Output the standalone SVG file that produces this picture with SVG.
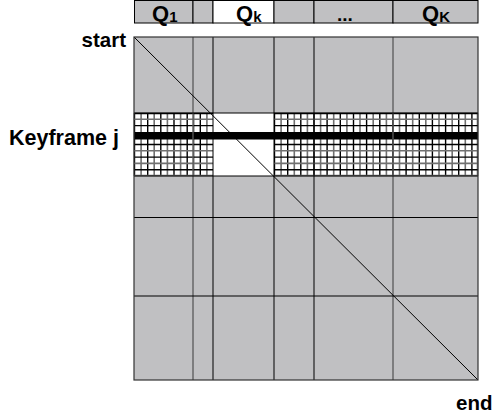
<svg xmlns="http://www.w3.org/2000/svg" width="493" height="418" viewBox="0 0 493 418">
<style>
.lbl{font-family:"Liberation Sans",Arial,sans-serif;font-weight:bold;fill:#000}
.cell{fill:#c0c0c2;stroke:#000;stroke-width:1}
.k{stroke:#000;stroke-width:1;fill:none}
.g{stroke:#5a5a5a;stroke-width:1.3;fill:none}
.hk{stroke:#000;stroke-width:1.4}
.hg{stroke:#707070;stroke-width:1.6}
</style>
<rect width="493" height="418" fill="#fff"/>
<!-- header -->
<g id="header">
  <g id="q1"><rect class="cell" x="134.5" y="0.5" width="58.5" height="22.5"/><text class="lbl" x="152" y="20.5" font-size="22">Q<tspan font-size="15" dy="1.5">1</tspan></text></g>
  <g id="qgap"><rect class="cell" x="193" y="0.5" width="20" height="22.5"/></g>
  <g id="qk"><rect x="213" y="0.5" width="61" height="22.5" fill="#fff" stroke="#000"/><text class="lbl" x="236" y="20.5" font-size="22">Q<tspan font-size="15" dy="1.5">k</tspan></text></g>
  <g id="qgap2"><rect class="cell" x="274" y="0.5" width="40" height="22.5"/></g>
  <g id="qdots"><rect class="cell" x="314" y="0.5" width="79" height="22.5"/><text class="lbl" x="337" y="20.5" font-size="19">...</text></g>
  <g id="qK"><rect class="cell" x="393" y="0.5" width="85" height="22.5"/><text class="lbl" x="422" y="20.5" font-size="22">Q<tspan font-size="15" dy="1.5">K</tspan></text></g>
</g>
<!-- labels -->
<text class="lbl" x="126" y="47" font-size="20.5" text-anchor="end">start</text>
<text class="lbl" x="9" y="145" font-size="21.5">Keyframe j</text>
<text class="lbl" x="456" y="410" font-size="20.5">end</text>
<!-- matrix -->
<g id="matrix">
  <rect x="134" y="37" width="344" height="343" fill="#c0c0c2"/>
  <rect x="134" y="113" width="344" height="63" fill="#fff"/>
  <g id="hatch-left">
    <path class="hk" d="M134.5 113V176M147.7 113V176M160.8 113V176M174 113V176M187.2 113V176M200.3 113V176"/>
    <path class="hg" d="M141.1 113V176M154.2 113V176M167.4 113V176M180.6 113V176M193.7 113V176M206.9 113V176"/>
    <path class="hk" d="M134 113.5H213M134 125.6H213M134 144.5H213M134 157.1H213M134 169.7H213"/>
    <path class="hg" d="M134 119.3H213M134 150.8H213M134 163.4H213M134 175.5H213"/>
  </g>
  <g id="hatch-right">
    <path class="hk" d="M274.5 113V176M287.7 113V176M300.8 113V176M314 113V176M327.1 113V176M340.3 113V176M353.5 113V176M366.6 113V176M379.8 113V176M392.9 113V176M406.1 113V176M419.3 113V176M432.4 113V176M445.6 113V176M458.7 113V176M471.9 113V176"/>
    <path class="hg" d="M281.1 113V176M294.3 113V176M307.4 113V176M320.6 113V176M333.7 113V176M346.9 113V176M360 113V176M373.2 113V176M386.4 113V176M399.5 113V176M412.7 113V176M425.8 113V176M439 113V176M452.2 113V176M465.3 113V176M477.5 113V176"/>
    <path class="hk" d="M274 113.5H478M274 125.6H478M274 144.5H478M274 157.1H478M274 169.7H478"/>
    <path class="hg" d="M274 119.3H478M274 150.8H478M274 163.4H478M274 175.5H478"/>
  </g>
  <rect x="213" y="113" width="61" height="63" fill="#fff"/>
  <rect id="keyframe-band" x="134" y="132" width="344" height="7.5" fill="#000"/>
</g>
<g id="connectors">
  <path class="g" d="M193 37V380M393 37V380"/>
  <path class="k" d="M213 37V380M274 37V380M314 37V380"/>
  <path class="k" d="M134 113H478M134 176H478M134 217.5H478M134 296H478"/>
  <path class="k" d="M134 37L478 380"/>
  <rect x="134" y="37" width="344" height="343" fill="none" stroke="#333" stroke-width="1.2"/>
</g>
</svg>
